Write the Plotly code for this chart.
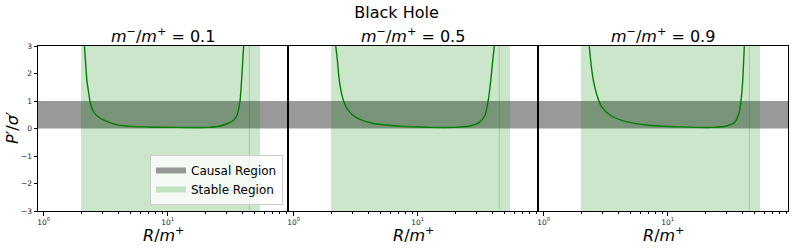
import numpy as np
import plotly.graph_objects as go

# ---------------- data ----------------
ratios = ["0.1", "0.5", "0.9"]

R_01 = [2.13, 2.17, 2.23, 2.31, 2.38, 2.53, 2.78, 3.15, 3.6, 4.56, 7.0, 12.3, 21.4, 26.6, 31.0, 34.0, 36.2, 38.1, 39.3, 40.3, 41.0]
P_01 = [3.02, 2.49, 1.76, 1.28, 0.92, 0.60, 0.41, 0.28, 0.18, 0.09, 0.055, 0.04, 0.04, 0.09, 0.20, 0.30, 0.49, 0.93, 1.66, 2.49, 3.02]

R_05 = [2.18, 2.25, 2.33, 2.47, 2.64, 2.94, 3.42, 4.38, 6.78, 12.6, 19.4, 26.4, 31.8, 34.9, 37.1, 38.8, 40.3, 41.5]
P_05 = [3.02, 2.49, 1.77, 1.15, 0.79, 0.52, 0.33, 0.18, 0.09, 0.04, 0.04, 0.09, 0.24, 0.49, 1.04, 1.74, 2.49, 3.02]

R_09 = [2.33, 2.39, 2.51, 2.68, 2.94, 3.42, 4.38, 6.78, 12.6, 23.3, 29.9, 34.9, 37.8, 39.3, 40.3, 41.0, 41.5]
P_09 = [3.02, 2.49, 1.77, 1.23, 0.79, 0.49, 0.28, 0.13, 0.06, 0.04, 0.09, 0.24, 0.61, 1.16, 1.77, 2.49, 3.02]

curves = [(R_01, P_01), (R_05, P_05), (R_09, P_09)]

causal_band = [0, 1]            # P'/sigma' range of causal region
stable_inner = [2.0, 45.5]      # R/m+ stable span (inner)
stable_outer = [45.5, 55.5]     # R/m+ stable span (outer)

x_limits = [0.9, 93.3]
y_limits = [-3, 3]
y_ticks = [-3, -2, -1, 0, 1, 2, 3]
x_ticks = [1, 10]
x_ticktext = ["10<sup>0</sup>", "10<sup>1</sup>"]
x_minor = [2, 3, 4, 5, 6, 7, 8, 9, 20, 30, 40, 50, 60, 70, 80, 90]

# ---------------- figure ----------------
W, H = 793, 248
panel_px = [(38, 288), (288, 538), (538, 788)]
ydom = [(248 - 211) / H, (248 - 46) / H]

GRAY = "rgba(128,128,128,0.8)"
GREEN_FILL = "rgba(0,128,0,0.2)"

fig = go.Figure()
shapes = []
annotations = []

for i, ((R, P), ratio) in enumerate(zip(curves, ratios)):
    k = "" if i == 0 else str(i + 1)
    xa, ya = "x" + k, "y" + k
    fig.add_trace(go.Scatter(
        x=R, y=P, mode="lines", xaxis=xa, yaxis=ya,
        line=dict(color="green", width=1.4, shape="spline", smoothing=0.8),
        showlegend=False, hoverinfo="skip"))

    shapes.append(dict(type="rect", layer="below", xref=xa + " domain", yref=ya,
                       x0=0, x1=1, y0=causal_band[0], y1=causal_band[1],
                       fillcolor=GRAY, line=dict(width=0)))
    for span in (stable_inner, stable_outer):
        shapes.append(dict(type="rect", layer="below", xref=xa, yref=ya + " domain",
                           x0=span[0], x1=span[1], y0=0, y1=1,
                           fillcolor=GREEN_FILL, line=dict(width=0)))
    shapes.append(dict(type="line", layer="below", xref=xa, yref=ya + " domain",
                       x0=stable_outer[0], x1=stable_outer[0], y0=0, y1=1,
                       line=dict(color=GREEN_FILL, width=1.2)))

    x0p, x1p = panel_px[i]
    dom = [x0p / W, x1p / W]
    fig.layout["xaxis" + k] = dict(
        type="log", domain=dom, anchor=ya, automargin=False,
        range=[np.log10(x_limits[0]), np.log10(x_limits[1])],
        showline=True, mirror=True, linecolor="black", linewidth=1,
        showgrid=False, zeroline=False,
        ticks="outside", ticklen=3.5, tickwidth=0.8, tickcolor="black",
        tickmode="array", tickvals=x_ticks, ticktext=x_ticktext,
        tickfont=dict(family="DejaVu Sans", size=7.5, color="#222"),
        minor=dict(tickmode="array", tickvals=x_minor, ticks="outside",
                   ticklen=2, tickwidth=0.6, tickcolor="black", showgrid=False),
    )
    fig.layout["yaxis" + k] = dict(
        domain=ydom, anchor=xa, range=y_limits, automargin=False,
        showline=True, mirror=True, linecolor="black", linewidth=1,
        showgrid=False, zeroline=False,
        ticks="outside" if i == 0 else "", ticklen=3.5, tickwidth=0.8, tickcolor="black",
        tickmode="array", tickvals=y_ticks, showticklabels=(i == 0),
        tickfont=dict(family="DejaVu Sans", size=7.5, color="#222"),
    )

    cx = (x0p + x1p) / 2 / W
    annotations.append(dict(
        text="<i>m</i><sup>−</sup>/<i>m</i><sup>+</sup> = " + ratio,
        x=cx, y=(H - 36) / H, xref="paper", yref="paper",
        xanchor="center", yanchor="middle", showarrow=False,
        font=dict(family="DejaVu Sans", size=16, color="black")))
    annotations.append(dict(
        text="<i>R</i>/<i>m</i><sup>+</sup>",
        x=cx, y=(H - 234) / H, xref="paper", yref="paper",
        xanchor="center", yanchor="middle", showarrow=False,
        font=dict(family="DejaVu Sans", size=16, color="black")))

annotations.append(dict(
    text="<i>P</i>′/<i>σ</i>′", textangle=-90,
    x=12 / W, y=(H - 128) / H, xref="paper", yref="paper",
    xanchor="center", yanchor="middle", showarrow=False,
    font=dict(family="DejaVu Sans", size=16, color="black")))

# legend proxies
fig.add_trace(go.Scatter(x=[None], y=[None], mode="none", fill="toself",
                         fillcolor=GRAY, name="Causal Region"))
fig.add_trace(go.Scatter(x=[None], y=[None], mode="none", fill="toself",
                         fillcolor=GREEN_FILL, name="Stable Region"))

fig.update_layout(
    template="none",
    width=W, height=H, autosize=False,
    margin=dict(l=0, r=0, t=0, b=0, pad=0, autoexpand=False),
    paper_bgcolor="white", plot_bgcolor="white",
    font=dict(family="DejaVu Sans", color="black"),
    title=dict(text="Black Hole", x=0.5, xanchor="center", y=(H - 12) / H,
               yanchor="middle", font=dict(family="DejaVu Sans", size=16, color="black")),
    shapes=shapes, annotations=annotations,
    legend=dict(x=283 / W, y=(H - 205) / H, xanchor="right", yanchor="bottom",
                bgcolor="rgba(255,255,255,0.8)", bordercolor="#cccccc", borderwidth=1,
                font=dict(family="DejaVu Sans", size=12, color="black"),
                tracegroupgap=0, itemwidth=30),
)

fig.write_html("out.html",
               config={"displayModeBar": False},
               post_script="document.body.style.margin='0px';document.body.style.padding='0px';")
